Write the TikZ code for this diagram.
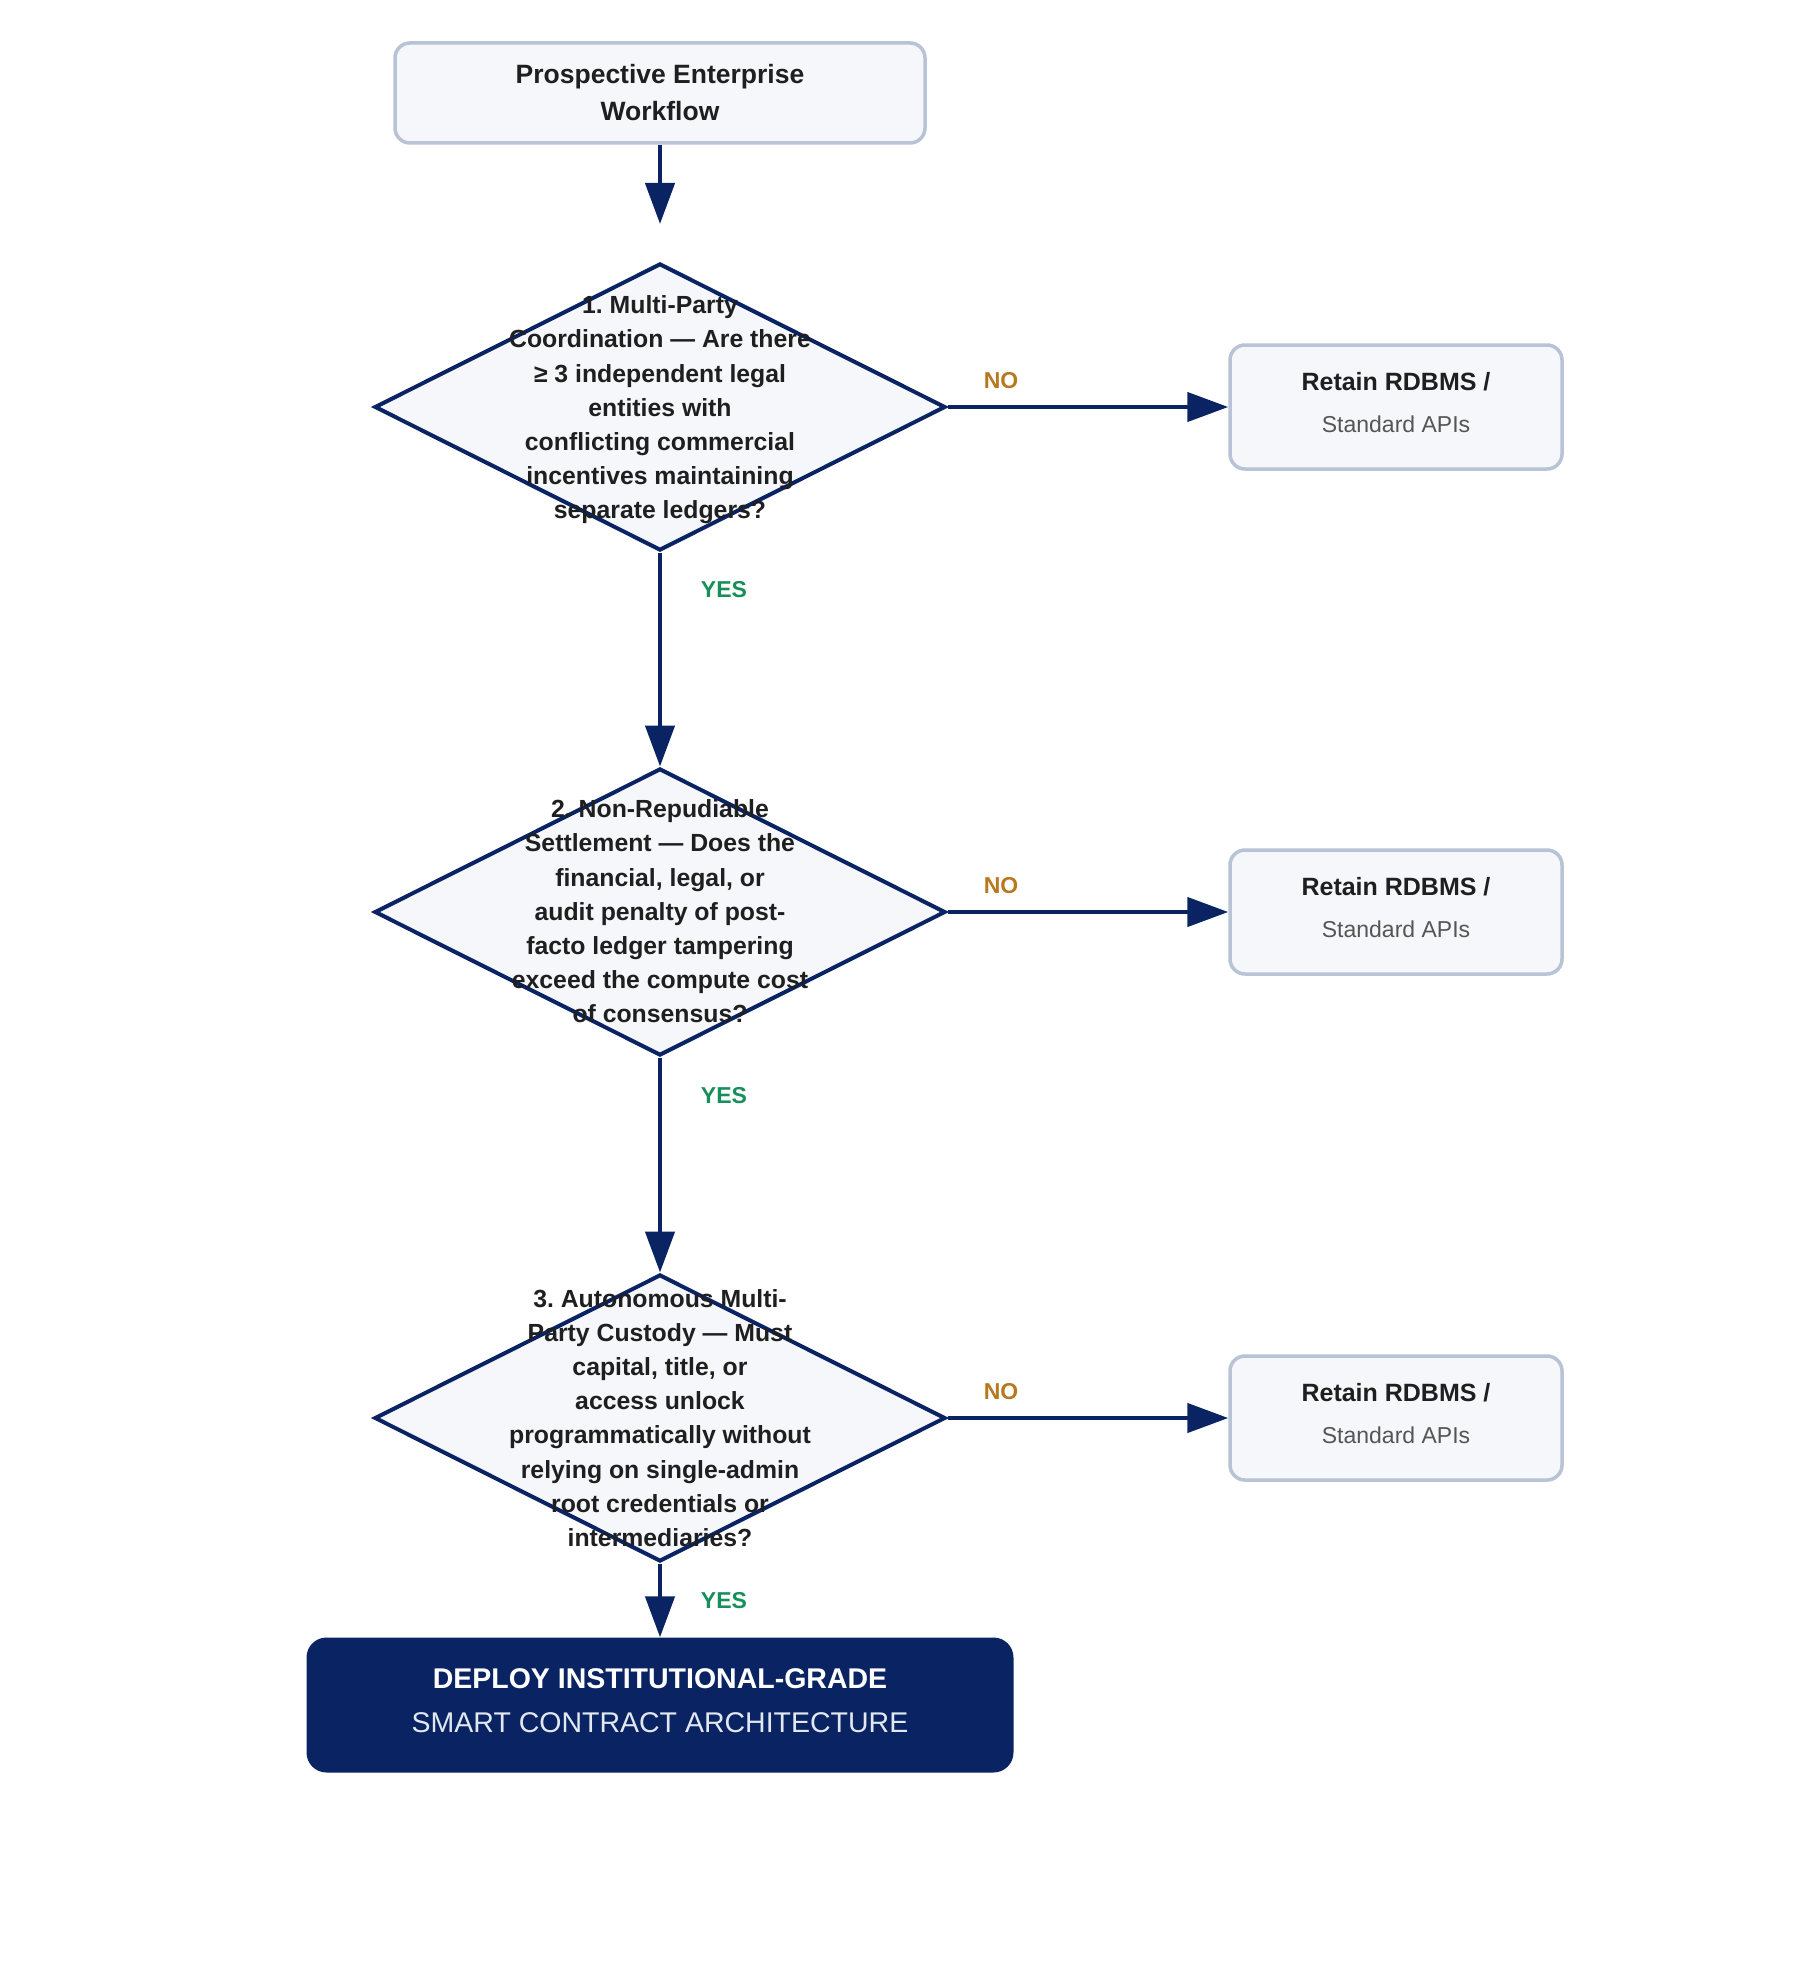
\documentclass[tikz,border=0pt]{standalone}
\usepackage{fontspec}
\setmainfont{Liberation Sans}
\usetikzlibrary{shapes.geometric,arrows.meta}
\definecolor{navy}{HTML}{0A2463}
\definecolor{boxfill}{HTML}{F5F7FA}
\definecolor{boxline}{HTML}{B8C3D6}
\definecolor{txt}{HTML}{1F1F1F}
\definecolor{subtxt}{HTML}{555555}
\definecolor{nocol}{HTML}{B7791F}
\definecolor{yescol}{HTML}{178F5B}
\definecolor{deploysub}{HTML}{E2E8F0}
\frenchspacing
\begin{document}
\begin{tikzpicture}[x=1pt,y=-1pt,
  startbox/.style={draw=boxline, line width=3.5pt, fill=boxfill, rounded corners=15pt,
    minimum width=530pt, minimum height=100pt, inner sep=0pt, align=center, text=txt,
    font=\bfseries\fontsize{26.5}{37}\selectfont},
  decision/.style={draw=navy, line width=4pt, fill=boxfill, diamond,
    minimum width=571pt, minimum height=287pt, inner sep=0pt},
  dtext/.style={align=center, text=txt, font=\bfseries\fontsize{24.8}{34.2}\selectfont},
  retainbox/.style={draw=boxline, line width=3.5pt, fill=boxfill, rounded corners=15pt,
    minimum width=332pt, minimum height=124pt, inner sep=0pt},
  retaintext/.style={align=center, inner sep=0pt, font=\fontsize{23}{42}\selectfont},
  deploybox/.style={fill=navy, rounded corners=20pt, minimum width=707pt,
    minimum height=135pt, inner sep=0pt},
  deploytext/.style={align=center, text=white, inner sep=0pt,
    font=\fontsize{28.5}{44}\selectfont},
  flow/.style={draw=navy, line width=4.5pt, -{Triangle[length=41pt,width=29pt]}},
  nolabel/.style={text=nocol, font=\bfseries\fontsize{23}{26}\selectfont},
  yeslabel/.style={text=yescol, font=\bfseries\fontsize{23}{26}\selectfont},
]
\path[use as bounding box, fill=white] (0,0) rectangle (1804,1980);

\node[startbox] (start) at (660,93) {Prospective Enterprise\\Workflow};
\coordinate (s1) at (660,224);

\node[decision] (d1) at (660,407) {};
\node[dtext] (t1) at ([yshift=-3pt]d1.center) {1. Multi-Party\\Coordination — Are there\\≥ 3 independent legal\\entities with\\conflicting commercial\\incentives maintaining\\separate ledgers?};

\node[decision] (d2) at (660,912) {};
\node[dtext] (t2) at ([yshift=0.5pt]d2.center) {2. Non-Repudiable\\Settlement — Does the\\financial, legal, or\\audit penalty of post-\\facto ledger tampering\\exceed the compute cost\\of consensus?};

\node[decision] (d3) at (660,1418) {};
\node[dtext] (t3) at ([yshift=0pt]d3.center) {3. Autonomous Multi-\\Party Custody — Must\\capital, title, or\\access unlock\\programmatically without\\relying on single-admin\\root credentials or\\intermediaries?};

\node[retainbox] (r1) at (1396,407) {};
\node[retaintext] (rt1) at ([yshift=4pt]r1.center) {{\bfseries\fontsize{25}{30}\selectfont\color{txt}Retain RDBMS /}\\{\color{subtxt}Standard APIs}};
\node[retainbox] (r2) at (1396,912) {};
\node[retaintext] (rt2) at ([yshift=4pt]r2.center) {{\bfseries\fontsize{25}{30}\selectfont\color{txt}Retain RDBMS /}\\{\color{subtxt}Standard APIs}};
\node[retainbox] (r3) at (1396,1418) {};
\node[retaintext] (rt3) at ([yshift=4pt]r3.center) {{\bfseries\fontsize{25}{30}\selectfont\color{txt}Retain RDBMS /}\\{\color{subtxt}Standard APIs}};

\node[deploybox] (deploy) at (660,1705) {};
\node[deploytext] (dt) at ([yshift=4pt]deploy.center) {{\bfseries DEPLOY INSTITUTIONAL-GRADE}\\{\color{deploysub}SMART CONTRACT ARCHITECTURE}};

\draw[flow] (start.south) -- (s1);
\draw[flow] (d1.south) -- (d2.north);
\draw[flow] (d2.south) -- (d3.north);
\draw[flow] (d3.south) -- (deploy.north);
\draw[flow] (d1.east) -- (r1.west);
\draw[flow] (d2.east) -- (r2.west);
\draw[flow] (d3.east) -- (r3.west);

\node[nolabel] (n1) at (1001,381) {NO};
\node[nolabel] (n2) at (1001,886) {NO};
\node[nolabel] (n3) at (1001,1392) {NO};
\node[yeslabel] (y1) at (724,590) {YES};
\node[yeslabel] (y2) at (724,1096) {YES};
\node[yeslabel] (y3) at (724,1601) {YES};
\end{tikzpicture}
\end{document}
